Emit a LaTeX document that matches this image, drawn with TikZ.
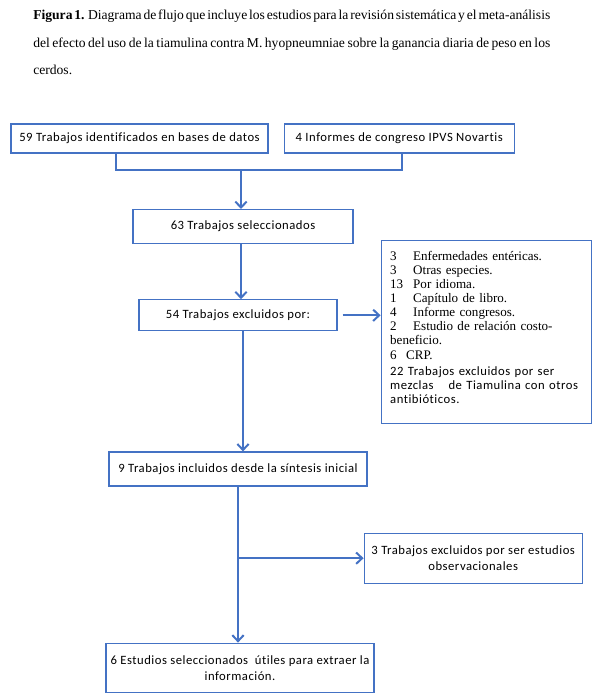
\documentclass[tikz,border=0pt]{standalone}
\usepackage{fontspec}
\setmainfont{Liberation Serif}
\newfontfamily\carlito[LetterSpace=4,Ligatures=NoCommon]{Carlito}
\usetikzlibrary{positioning,calc,arrows.meta}
\definecolor{azul}{HTML}{4472C4}
\newcommand\fuenteleyenda{\fontsize{10.2}{11}\selectfont\spaceskip=0.12em plus 2em minus 0.05em\relax}

\begin{document}
\begin{tikzpicture}[x=0.75pt,y=-0.75pt,
        caja/.style={draw=azul,line width=0.9pt,inner sep=2pt,align=center,font=\carlito\fontsize{9.5}{12}\selectfont},
        flecha/.style={draw=azul,line width=1.5pt,-{Straight Barb[length=4.5pt,width=8.5pt]}},
        linea/.style={draw=azul,line width=1.5pt},
        leyenda/.style={anchor=base west,inner sep=0pt}]
            \useasboundingbox (0,0) rectangle (600,698);

            \node[leyenda] (cap1) at (33,20) {\fuenteleyenda\makebox[387.75pt][s]{\textbf{Figura 1.} Diagrama de flujo que incluye los estudios para la revisión sistemática y el meta-análisis}};
            \node[leyenda] (cap2) at (33,48) {\fuenteleyenda\makebox[387.75pt][s]{del efecto del uso de la tiamulina contra M. hyopneumniae sobre la ganancia diaria de peso en los}};
            \node[leyenda] (cap3) at (33,75) {\fuenteleyenda cerdos.};

            \node[caja,minimum width=192.75pt,minimum height=21.75pt] (ident) at (139.5,138.5) {59 Trabajos identificados en bases de datos};
            \node[caja,minimum width=172.5pt,minimum height=21.75pt] (congreso) [right=11.25pt of ident] {4 Informes de congreso IPVS Novartis};
            \coordinate (union) at (241,170);
            \coordinate (ident_pie) at ([xshift=-17.6pt]ident.south);
            \coordinate (congreso_pie) at ([xshift=2.25pt]congreso.south);
            \node[caja,minimum width=165pt,minimum height=25.5pt] (selec) [below=29.25pt of union,xshift=1.5pt] {63 Trabajos seleccionados};
            \node[caja,minimum width=148.5pt,minimum height=23.25pt] (excl) [below=41.25pt of selec,xshift=-3.75pt] {54 Trabajos excluidos por:};
            \coordinate (excl_pie) at ([xshift=3.75pt]excl.south);
            \node[caja,text width=144pt,inner xsep=6.75pt,minimum height=137.25pt,align=left,font=\fontsize{9.8}{10.5}\selectfont] (razones) [right=32.25pt of excl,yshift=-12.75pt] {%
                \makebox[17.25pt][l]{3}Enfermedades entéricas.\\
                \makebox[17.25pt][l]{3}Otras especies.\\
                \makebox[17.25pt][l]{13}Por idioma.\\
                \makebox[17.25pt][l]{1}Capítulo de libro.\\
                \makebox[17.25pt][l]{4}Informe congresos.\\
                \makebox[17.25pt][l]{2}Estudio de relación costo-\\
                beneficio.\\[0.75pt]
                \makebox[12pt][l]{6}CRP.\\[1.5pt]
                {\carlito\fontsize{9.5}{11}\selectfont 22 Trabajos excluidos por ser}\\[0.5pt]
                {\carlito\fontsize{9.5}{11}\selectfont mezclas\hspace{8pt} de Tiamulina con otros}\\
                {\carlito\fontsize{9.5}{11}\selectfont antibióticos.}\\[-3pt]\mbox{}};
            \node[caja,minimum width=193.5pt,minimum height=25.5pt] (incl) [below=90pt of excl] {9 Trabajos incluidos desde la síntesis inicial};
            \node[caja,minimum width=163.5pt,minimum height=37.5pt] (obs) [below right=34.5pt and -3pt of incl] {3 Trabajos excluidos por ser estudios\\observacionales};
            \node[caja,minimum width=201pt,minimum height=36.75pt] (util) [below=117pt of incl,xshift=1.5pt] {6 Estudios seleccionados \ útiles para extraer la\\información.};

            \draw[linea] (ident_pie) |- (union) -| (congreso_pie);
            \draw[flecha] (union) -- (union |- selec.north);
            \draw[flecha] (union |- selec.south) -- (union |- excl.north);
            \draw[flecha] ([xshift=3.75pt]excl.east) -- (excl.east -| razones.west);
            \draw[flecha] (excl_pie) -- (excl_pie |- incl.north);
            \draw[flecha] (incl.south) -- (incl.south |- util.north);
            \draw[flecha] (incl.south |- obs.west) -- (obs.west);
        \end{tikzpicture}
\end{document}
